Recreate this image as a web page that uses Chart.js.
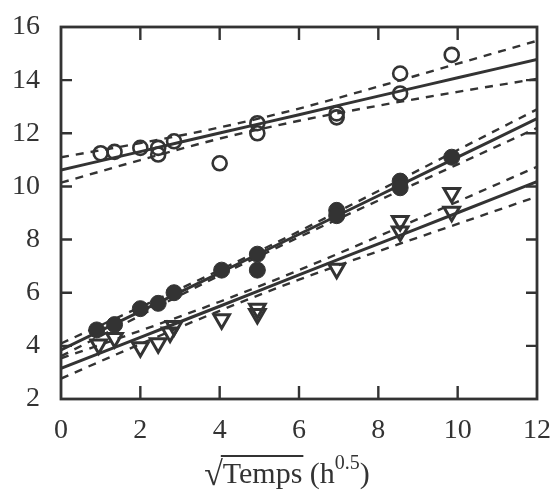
<!DOCTYPE html>
<html><head><meta charset="utf-8">
<script src="https://cdn.jsdelivr.net/npm/chart.js@4.4.1/dist/chart.umd.min.js"></script>
<style>html,body{margin:0;padding:0;background:#fff}</style>
</head><body>
<canvas id="c" width="559" height="499"></canvas>
<script>
// ---- tick values ----
const xTicks = [0, 2, 4, 6, 8, 10, 12];
const yTicks = [2, 4, 6, 8, 10, 12, 14, 16];

// ---- open circles ----
const openX = [1.0, 1.35, 2.0, 2.45, 2.45, 2.85, 4.0, 4.95, 4.95, 6.95, 6.95, 8.55, 8.55, 9.85];
const openY = [11.25, 11.3, 11.45, 11.45, 11.2, 11.7, 10.87, 12.38, 12.0, 12.75, 12.6, 14.25, 13.5, 14.95];

// ---- filled circles ----
const filledX = [0.9, 1.35, 2.0, 2.45, 2.85, 4.05, 4.95, 4.95, 6.95, 6.95, 8.55, 8.55, 9.85];
const filledY = [4.6, 4.8, 5.4, 5.6, 6.0, 6.85, 7.45, 6.85, 9.1, 8.9, 10.2, 9.95, 11.1];

// ---- triangles ----
const triX = [0.95, 1.35, 2.0, 2.45, 2.75, 2.85, 4.05, 4.95, 4.95, 6.95, 8.55, 8.55, 9.85, 9.85];
const triY = [4.05, 4.3, 3.95, 4.1, 4.5, 4.75, 5.0, 5.4, 5.2, 6.9, 8.7, 8.3, 9.75, 9.05];

// ---- fitted lines and confidence bands (read at these x) ----
const fitX = [0, 2, 4, 6, 8, 10, 12];
const openFit   = [10.62, 11.31, 12.01, 12.70, 13.40, 14.09, 14.78];
const openUpper = [11.10, 11.63, 12.22, 12.93, 13.76, 14.62, 15.48];
const openLower = [10.14, 10.99, 11.80, 12.47, 13.04, 13.56, 14.05];
const filledFit   = [3.85, 5.30, 6.75, 8.20, 9.65, 11.10, 12.55];
const filledUpper = [4.09, 5.46, 6.85, 8.31, 9.83, 11.37, 12.90];
const filledLower = [3.61, 5.14, 6.65, 8.09, 9.47, 10.83, 12.20];
const triFit   = [3.15, 4.32, 5.49, 6.67, 7.84, 9.01, 10.18];
const triUpper = [3.53, 4.57, 5.66, 6.85, 8.12, 9.43, 10.74];
const triLower = [2.77, 4.07, 5.32, 6.49, 7.56, 8.59, 9.62];

const INK = '#333333';
const FAM = '"Liberation Serif", "DejaVu Serif", serif';
const pts = (xs, ys) => xs.map((x, i) => ({x: x, y: ys[i]}));

function lineDs(ys, dashed) {
  return {
    data: pts(fitX, ys), showLine: true, pointRadius: 0, borderColor: INK,
    borderWidth: dashed ? 2.4 : 3, borderDash: dashed ? [8, 7] : [],
    cubicInterpolationMode: 'monotone', fill: false, order: 2
  };
}

const frameTicks = {
  id: 'frameTicks',
  afterDatasetsDraw(chart) {
    const {ctx, chartArea: a, scales} = chart;
    ctx.save();
    ctx.strokeStyle = INK;
    ctx.lineWidth = 2.8;
    ctx.strokeRect(a.left, a.top, a.right - a.left, a.bottom - a.top);
    ctx.lineWidth = 2.4;
    ctx.beginPath();
    xTicks.slice(1, -1).forEach(v => {
      const px = scales.x.getPixelForValue(v);
      ctx.moveTo(px, a.bottom); ctx.lineTo(px, a.bottom - 13);
      ctx.moveTo(px, a.top); ctx.lineTo(px, a.top + 13);
    });
    yTicks.slice(1, -1).forEach(v => {
      const py = scales.y.getPixelForValue(v);
      ctx.moveTo(a.left, py); ctx.lineTo(a.left + 11, py);
      ctx.moveTo(a.right, py); ctx.lineTo(a.right - 11, py);
    });
    ctx.stroke();

    // x axis title: √Temps (h^0.5)
    const base = 483;
    ctx.fillStyle = INK;
    ctx.textBaseline = 'alphabetic';
    ctx.textAlign = 'left';
    const parts = [
      {t: '\u221A', f: '34px ' + FAM, dy: 2},
      {t: 'Temps', f: '30px ' + FAM, dy: 0, over: true},
      {t: ' (h', f: '30px ' + FAM, dy: 0},
      {t: '0.5', f: '20px ' + FAM, dy: -14},
      {t: ')', f: '30px ' + FAM, dy: 0}
    ];
    let total = 0;
    parts.forEach(p => { ctx.font = p.f; p.w = ctx.measureText(p.t).width; total += p.w; });
    let x = 287 - total / 2;
    parts.forEach(p => {
      ctx.font = p.f;
      ctx.fillText(p.t, x, base + p.dy);
      if (p.over) {
        ctx.lineWidth = 1.8;
        ctx.beginPath();
        ctx.moveTo(x - 2, base - 27); ctx.lineTo(x + p.w + 1, base - 27);
        ctx.stroke();
      }
      x += p.w;
    });
    ctx.restore();
  }
};

const tickFont = {family: FAM, size: 28};

new Chart(document.getElementById('c'), {
  type: 'scatter',
  data: {
    datasets: [
      lineDs(openFit, false), lineDs(openUpper, true), lineDs(openLower, true),
      lineDs(filledFit, false), lineDs(filledUpper, true), lineDs(filledLower, true),
      lineDs(triFit, false), lineDs(triUpper, true), lineDs(triLower, true),
      {data: pts(openX, openY), pointStyle: 'circle', pointRadius: 7, borderWidth: 2.6,
       borderColor: INK, backgroundColor: 'rgba(0,0,0,0)', order: 1},
      {data: pts(filledX, filledY), pointStyle: 'circle', pointRadius: 8, borderWidth: 1,
       borderColor: INK, backgroundColor: INK, order: 1},
      {data: pts(triX, triY), pointStyle: 'triangle', rotation: 180, pointRadius: 9, borderWidth: 3,
       borderColor: INK, backgroundColor: 'rgba(0,0,0,0)', order: 1}
    ]
  },
  options: {
    responsive: false, animation: false, devicePixelRatio: 1,
    layout: {padding: {top: 27, right: 22, left: 0, bottom: 0}},
    plugins: {legend: {display: false}, tooltip: {enabled: false}},
    scales: {
      x: {
        type: 'linear', min: 0, max: 12,
        afterBuildTicks: s => { s.ticks = xTicks.map(v => ({value: v})); },
        grid: {display: false}, border: {display: false},
        ticks: {font: tickFont, color: INK, padding: 7, maxRotation: 0},
        afterFit: s => { s.height = 100; s.paddingLeft = 0; s.paddingRight = 0; }
      },
      y: {
        type: 'linear', min: 2, max: 16,
        afterBuildTicks: s => { s.ticks = yTicks.map(v => ({value: v})); },
        grid: {display: false}, border: {display: false},
        ticks: {font: tickFont, color: INK, padding: 13},
        afterFit: s => { s.width = 61; s.paddingTop = 0; s.paddingBottom = 0; }
      }
    }
  },
  plugins: [frameTicks]
});
</script>
</body></html>
